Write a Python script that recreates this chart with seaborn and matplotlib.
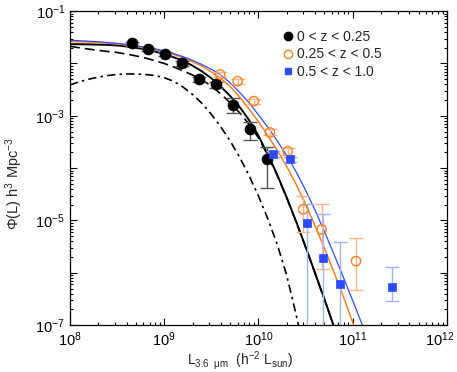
import numpy as np
import seaborn as sns
import matplotlib
matplotlib.use("Agg")
import matplotlib.pyplot as plt
from matplotlib.lines import Line2D
from matplotlib.transforms import ScaledTranslation
from matplotlib.ticker import LogLocator, FuncFormatter, NullFormatter

# log10 luminosity grid for the model curves
lum_grid = [8.0, 8.1, 8.2, 8.3, 8.4, 8.5, 8.6, 8.7, 8.8, 8.9,
            9.0, 9.1, 9.2, 9.3, 9.4, 9.5, 9.6, 9.7, 9.8, 9.9,
            10.0, 10.1, 10.2, 10.3, 10.4, 10.5, 10.6, 10.7, 10.8, 10.9,
            11.0, 11.1, 11.2]

# log10 Phi of the curves
fit_low = [-1.63, -1.632, -1.635, -1.64, -1.645, -1.655, -1.675, -1.70, -1.73, -1.77,
           -1.82, -1.88, -1.95, -2.04, -2.15, -2.28, -2.44, -2.62, -2.83, -3.08,
           -3.38, -3.74, -4.13, -4.56, -5.02, -5.50, -6.00, -6.50, -7.02, -7.55]
comp_dashed = [-1.67, -1.70, -1.725, -1.75, -1.77, -1.79, -1.82, -1.855, -1.895, -1.945,
               -2.00, -2.065, -2.14, -2.22, -2.31, -2.43, -2.58, -2.75, -2.94, -3.16,
               -3.42, -3.76, -4.14, -4.57, -5.03, -5.51, -6.01, -6.51, -7.03, -7.56]
comp_dashdot = [-2.41, -2.35, -2.30, -2.26, -2.23, -2.21, -2.20, -2.20, -2.21, -2.23,
                -2.27, -2.34, -2.45, -2.59, -2.76, -2.97, -3.21, -3.48, -3.79, -4.14,
                -4.53, -4.97, -5.46, -6.05, -6.80, -7.65]
fit_mid = [-1.58, -1.585, -1.59, -1.60, -1.61, -1.625, -1.645, -1.67, -1.70, -1.735,
           -1.775, -1.825, -1.89, -1.965, -2.05, -2.16, -2.29, -2.44, -2.64, -2.87,
           -3.11, -3.38, -3.66, -3.97, -4.31, -4.69, -5.10, -5.53, -5.98, -6.45,
           -6.95, -7.45]
fit_high = [-1.555, -1.565, -1.575, -1.585, -1.60, -1.615, -1.635, -1.66, -1.69, -1.72,
            -1.76, -1.81, -1.87, -1.94, -2.02, -2.11, -2.22, -2.37, -2.55, -2.75,
            -2.98, -3.22, -3.48, -3.76, -4.07, -4.42, -4.80, -5.21, -5.64, -6.08,
            -6.53, -6.99, -7.45]

# data points: log10 L, log10 Phi, upper / lower error ends
low_L = [8.655, 8.831, 9.011, 9.192, 9.372, 9.549, 9.729, 9.910, 10.094]
low_phi = [-1.617, -1.732, -1.822, -2.000, -2.294, -2.400, -2.796, -3.249, -3.834]
low_hi = [-1.58, -1.70, -1.79, -1.96, -2.25, -2.35, -2.668, -3.127, -3.593]
low_lo = [-1.66, -1.77, -1.86, -2.05, -2.35, -2.46, -2.943, -3.465, -4.377]

mid_L = [9.595, 9.779, 9.952, 10.122, 10.310, 10.475, 10.670, 11.035]
mid_phi = [-2.210, -2.338, -2.720, -3.318, -3.675, -4.789, -5.172, -5.777]
mid_hi = [-2.16, -2.29, -2.67, -3.26, -3.61, -4.535, -4.694, -5.332]
mid_lo = [-2.26, -2.39, -2.77, -3.37, -3.74, -5.223, -5.930, -6.331]

high_L = [10.150, 10.334, 10.510, 10.688, 10.868, 11.413]
high_phi = [-3.733, -3.828, -5.045, -5.714, -6.211, -6.268]
high_hi = [-3.68, -3.78, -4.694, -4.885, -5.409, -5.886]
high_lo = [-3.79, -3.88, -9.0, -9.0, -9.0, -6.536]

labels = ["0 < z < 0.25", "0.25 < z < 0.5", "0.5 < z < 1.0"]

ORANGE = "#ff7f1e"
BLUE = "#2b4bff"

sns.set_theme(style="ticks")
plt.rcParams["font.family"] = ["Liberation Sans", "DejaVu Sans"]
plt.rcParams["mathtext.fontset"] = "custom"
plt.rcParams["mathtext.rm"] = "Liberation Sans"
plt.rcParams["mathtext.it"] = "Liberation Sans:italic"
plt.rcParams["mathtext.bf"] = "Liberation Sans:bold"


def lin(v):
    return 10 ** np.asarray(v, dtype=float)


fig = plt.figure(figsize=(4.57, 3.72), dpi=100)
ax = fig.add_axes([0.153, 0.126, 0.825, 0.844])
ax.set_xscale("log")
ax.set_yscale("log")

curves = [
    (comp_dashdot, "black", (0, (5, 2.5, 1.5, 2.5)), 1.2),
    (comp_dashed, "black", (0, (6, 3)), 1.2),
    (fit_low, "black", "-", 1.4),
    (fit_mid, ORANGE, "-", 1.1),
    (fit_high, BLUE, "-", 0.9),
]
for vals, col, ls, lw in curves:
    sns.lineplot(x=lin(lum_grid[:len(vals)]), y=lin(vals), ax=ax, color=col,
                 linestyle=ls, lw=lw, estimator=None, sort=False)


def draw_points(L, phi, hi, lo, ecol, **mk):
    x = lin(L)
    y = lin(phi)
    err = [y - lin(lo), lin(hi) - y]
    ax.errorbar(x, y, yerr=err, fmt="none", ecolor=ecol, elinewidth=1.0,
                capsize=4.8, capthick=1.0, zorder=3)
    sns.scatterplot(x=x, y=y, ax=ax, zorder=4, legend=False, **mk)


draw_points(low_L, low_phi, low_hi, low_lo, "#555555",
            marker="o", s=62, color="black", edgecolor="black", linewidth=0.5)
draw_points(mid_L, mid_phi, mid_hi, mid_lo, "#ffb486",
            marker="o", s=45, facecolor="none", edgecolor=ORANGE, linewidth=1.0)
draw_points(high_L, high_phi, high_hi, high_lo, "#9fb0ff",
            marker="s", s=28, color=BLUE, edgecolor=BLUE, linewidth=0.5)

ax.set_xlim(1e8, 1e12)
ax.set_ylim(1e-7, 1e-1)

ax.xaxis.set_major_locator(LogLocator(base=10, numticks=10))
ax.xaxis.set_minor_locator(LogLocator(base=10, subs=range(2, 10), numticks=100))
ax.yaxis.set_major_locator(LogLocator(base=10, numticks=20))
ax.yaxis.set_minor_locator(LogLocator(base=10, subs=range(2, 10), numticks=100))
ax.xaxis.set_minor_formatter(NullFormatter())
ax.yaxis.set_minor_formatter(NullFormatter())


def yfmt(v, pos):
    e = int(round(np.log10(v)))
    return f"$10^{{{e}}}$" if e % 2 == 1 else ""


ax.yaxis.set_major_formatter(FuncFormatter(yfmt))
ax.tick_params(which="both", direction="in", top=True, right=True,
               colors="black", labelsize=10.5, width=0.8)
ax.tick_params(which="major", length=5)
ax.tick_params(which="minor", length=2.5)
for sp in ax.spines.values():
    sp.set_color("black")
    sp.set_linewidth(0.9)

ax.set_xlabel(r"L$_{\mathrm{3.6\ \ μm}}$  (h$^{-2}$ L$_{\mathrm{sun}}$)", fontsize=10)
ax.set_ylabel(r"$\Phi$(L) h$^3$ Mpc$^{-3}$", fontsize=10.5)
ax.xaxis.set_label_coords(0.45, -0.075)
ax.yaxis.set_label_coords(-0.12, 0.45)

handles = [
    Line2D([], [], ls="", marker="o", ms=6, color="black"),
    Line2D([], [], ls="", marker="o", ms=6, mfc="none", mec=ORANGE, mew=1.0),
    Line2D([], [], ls="", marker="s", ms=4.5, color=BLUE),
]
ax.legend(handles, labels, loc="upper left", bbox_to_anchor=(0.565, 0.94),
          frameon=False, fontsize=10, handlelength=0.7, handletextpad=0.3,
          labelspacing=0.25, borderpad=0, borderaxespad=0)

# pull the last x tick label (10^12) a little inward so it stays on the canvas
fig.canvas.draw()
for tick in ax.xaxis.get_major_ticks():
    if abs(np.log10(tick.get_loc()) - 12) < 1e-6:
        lab = tick.label1
        lab.set_transform(lab.get_transform()
                          + ScaledTranslation(-5 / 72, 0, fig.dpi_scale_trans))

fig.savefig("out.png", dpi=100)
